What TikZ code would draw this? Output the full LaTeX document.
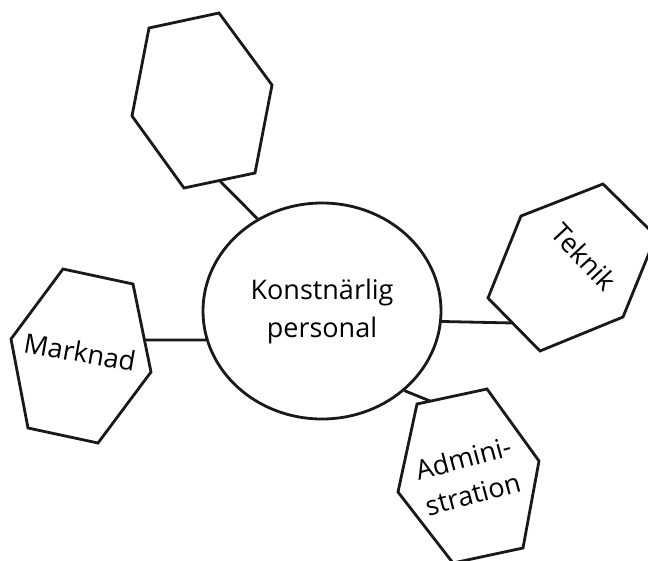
\documentclass[tikz,border=0pt]{standalone}
\usepackage{fontspec}
\setmainfont{Open Sans}
\usetikzlibrary{shapes.geometric}
\tikzset{
  line/.style={line width=2.8pt, draw=black!90, line join=miter},
  hexshape/.style={line, fill=white},
  lbl/.style={inner sep=0pt, align=center, font=\fontsize{27}{37}\selectfont, text=black},
  hub/.style={line, ellipse, minimum width=238pt, minimum height=216pt, inner sep=0pt, align=center, font=\fontsize{27}{38}\selectfont, text=black}
}
\begin{document}
\begin{tikzpicture}[x=1pt,y=-1pt]
\useasboundingbox (0,0) rectangle (648,560);
\clip (0,0) rectangle (648,560);
\fill[white] (0,0) rectangle (648,560);
% hexagons
\draw[hexshape] (149,28) -- (219,13) -- (272,85) -- (255,173) -- (184,188) -- (132,116) -- cycle;
\draw[hexshape] (521,216) -- (603,184) -- (656,236) -- (623,317) -- (540,351) -- (488,298) -- cycle;
\draw[hexshape] (63,269) -- (133,284) -- (151,372) -- (98,443) -- (28,428) -- (11,339) -- cycle;
\draw[hexshape] (417,404) -- (487,389) -- (539,461) -- (523,548) -- (453,563) -- (398,492) -- cycle;
% attachment points on hexagons
\coordinate (topA) at (219.5,180.5);
\coordinate (tekA) at (513,323);
\coordinate (marA) at (145,340);
\coordinate (admA) at (430,401);
% central node
\node[hub] (c) at (322,311) {Konstnärlig\\personal};
% labels
\node[lbl, rotate=-10] (mar) at (80,352) {Marknad};
\node[lbl, rotate=-47] (tek) at (584,257) {Teknik};
\node[lbl, rotate=15] (adm) at (468,476) {Admini-\\stration};
% connectors
\draw[line] (topA) -- (c.125.5);
\draw[line] (tekA) -- (c.-5.8);
\draw[line] (marA) -- (c.194.2);
\draw[line] (admA) -- (c.-44.3);
\end{tikzpicture}
\end{document}
